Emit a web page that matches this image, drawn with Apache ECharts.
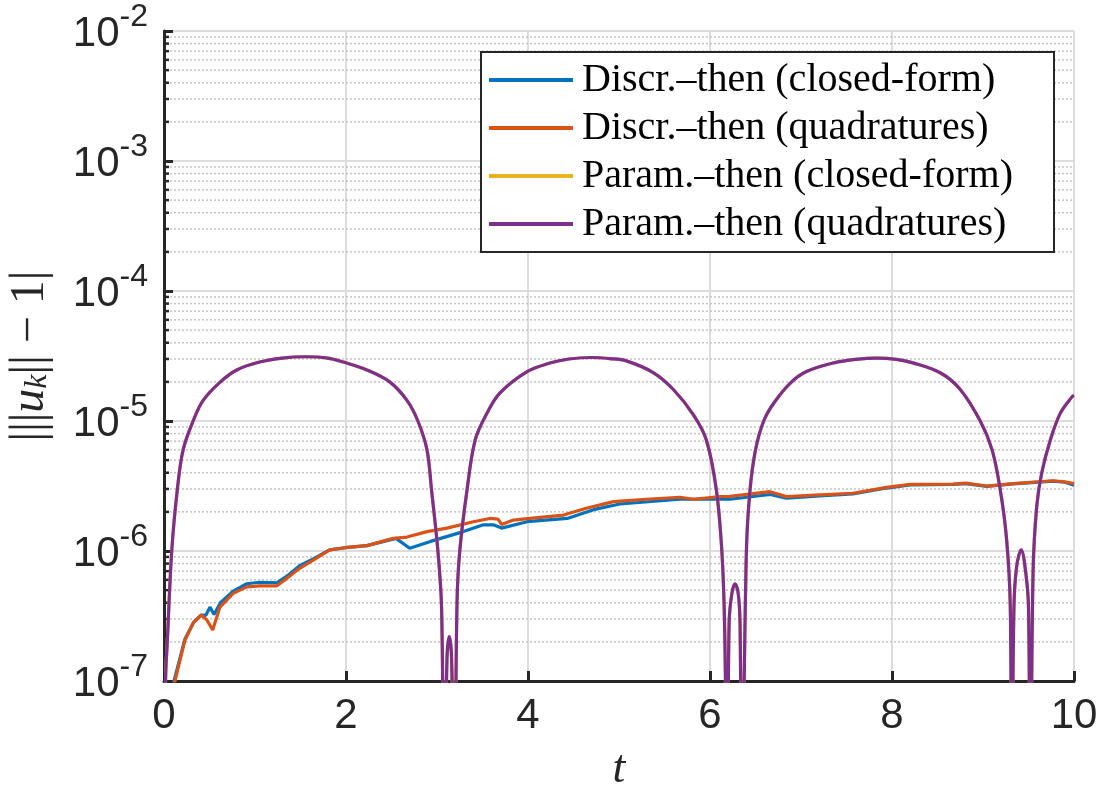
<!DOCTYPE html>
<html lang="en">
<head>
<meta charset="UTF-8">
<title>Norm deviation</title>
<script src="https://cdn.jsdelivr.net/npm/echarts@6/dist/echarts.min.js"></script>
<style>
  body { margin: 0; background: #fff; }
  #chart { width: 1100px; height: 800px; }
</style>
</head>
<body>
<div id="chart"></div>
<script>
// values: t and |‖u_k‖ - 1|
const seriesNames = [
  'Discr.–then (closed-form)',
  'Discr.–then (quadratures)',
  'Param.–then (closed-form)',
  'Param.–then (quadratures)'
];

// Discr.-then, closed-form (blue)
const tDiscrClosed = [0.06, 0.11, 0.23, 0.33, 0.41, 0.46, 0.505, 0.55, 0.62, 0.76, 0.91, 1.05, 1.24, 1.35, 1.49,
  1.64, 1.82, 1.99, 2.23, 2.55, 2.70, 2.92, 3.29, 3.51, 3.62, 3.71, 3.99, 4.43, 4.72, 5.01, 5.67, 6.22, 6.66,
  6.84, 7.21, 7.57, 7.94, 8.20, 8.67, 8.81, 9.04, 9.33, 9.77, 9.9, 10];
const vDiscrClosed = [3e-8, 1e-7, 2.1e-7, 2.85e-7, 3.22e-7, 3.2e-7, 3.7e-7, 3.25e-7, 4.0e-7, 4.9e-7, 5.6e-7, 5.75e-7,
  5.7e-7, 6.4e-7, 7.7e-7, 8.7e-7, 1.02e-6, 1.06e-6, 1.1e-6, 1.25e-6, 1.05e-6, 1.18e-6, 1.41e-6, 1.59e-6, 1.59e-6,
  1.5e-6, 1.68e-6, 1.78e-6, 2.08e-6, 2.3e-6, 2.5e-6, 2.5e-6, 2.72e-6, 2.55e-6, 2.65e-6, 2.75e-6, 3.05e-6, 3.22e-6,
  3.25e-6, 3.3e-6, 3.14e-6, 3.28e-6, 3.45e-6, 3.38e-6, 3.2e-6];

// Discr.-then, quadratures (orange)
const tDiscrQuad = [0.06, 0.12, 0.23, 0.32, 0.41, 0.47, 0.535, 0.615, 0.76, 0.91, 1.05, 1.24, 1.35, 1.49, 1.64,
  1.82, 1.99, 2.23, 2.52, 2.67, 2.89, 3.11, 3.40, 3.58, 3.67, 3.71, 3.84, 4.02, 4.39, 4.64, 4.94, 5.30, 5.67,
  5.82, 6.11, 6.22, 6.66, 6.84, 7.21, 7.57, 7.94, 8.20, 8.67, 8.81, 9.04, 9.33, 9.77, 9.9, 10];
const vDiscrQuad = [3e-8, 1e-7, 2.06e-7, 2.8e-7, 3.22e-7, 2.95e-7, 2.47e-7, 3.7e-7, 4.72e-7, 5.3e-7, 5.4e-7, 5.4e-7,
  6.16e-7, 7.36e-7, 8.5e-7, 1.02e-6, 1.06e-6, 1.1e-6, 1.25e-6, 1.28e-6, 1.41e-6, 1.5e-6, 1.68e-6, 1.78e-6, 1.76e-6,
  1.6e-6, 1.73e-6, 1.78e-6, 1.89e-6, 2.13e-6, 2.4e-6, 2.5e-6, 2.59e-6, 2.5e-6, 2.62e-6, 2.63e-6, 2.86e-6, 2.62e-6,
  2.7e-6, 2.78e-6, 3.09e-6, 3.25e-6, 3.27e-6, 3.33e-6, 3.16e-6, 3.3e-6, 3.47e-6, 3.4e-6, 3.3e-6];

// Param.-then (closed-form and quadratures give the same curve)
const tParam = [0, 0.017, 0.037, 0.085, 0.146, 0.21, 0.32, 0.43, 0.62, 0.8, 1.05, 1.3, 1.55, 1.8, 1.97, 2.23, 2.48,
  2.67, 2.79, 2.89, 2.94, 3.01, 3.05, 3.08, 3.11, 3.135, 3.16, 3.19, 3.22, 3.25, 3.33, 3.42, 3.55, 3.69, 3.99,
  4.24, 4.45, 4.7, 4.9, 5.08, 5.38, 5.6, 5.82, 5.96, 6.07, 6.13, 6.16, 6.19, 6.21, 6.24, 6.275, 6.31, 6.33, 6.35,
  6.40, 6.44, 6.5, 6.59, 6.70, 6.88, 7.06, 7.36, 7.6, 7.83, 8.05, 8.23, 8.53, 8.75, 8.97, 9.10, 9.19, 9.26, 9.30,
  9.315, 9.34, 9.37, 9.42, 9.47, 9.50, 9.52, 9.55, 9.59, 9.645, 9.74, 9.85, 9.98, 10];
const vParam = [1e-9, 1e-7, 2.06e-7, 1e-6, 2.95e-6, 6e-6, 1e-5, 1.44e-5, 2e-5, 2.47e-5, 2.84e-5, 3.05e-5, 3.12e-5,
  3.05e-5, 2.84e-5, 2.47e-5, 2e-5, 1.44e-5, 1e-5, 6e-6, 2.95e-6, 1e-6, 3.7e-7, 1e-8, 1.5e-7, 2.2e-7, 1.5e-7, 1e-8,
  4e-7, 1e-6, 2.95e-6, 7.15e-6, 1.15e-5, 1.64e-5, 2.4e-5, 2.79e-5, 3.0e-5, 3.08e-5, 3.02e-5, 2.9e-5, 2.35e-5,
  1.74e-5, 1.11e-5, 7.15e-6, 2.95e-6, 1e-6, 2.8e-7, 1e-8, 2.8e-7, 4.7e-7, 5.6e-7, 4.7e-7, 2.8e-7, 1e-8, 1e-6,
  2.95e-6, 6e-6, 1e-5, 1.37e-5, 1.95e-5, 2.4e-5, 2.8e-5, 2.98e-5, 3.05e-5, 2.98e-5, 2.8e-5, 2.35e-5, 1.75e-5, 1e-5,
  6e-6, 2.95e-6, 1.22e-6, 3.7e-7, 1e-8, 3.7e-7, 7.6e-7, 1.02e-6, 6.8e-7, 3.7e-7, 1e-8, 6.8e-7, 2.19e-6, 3.98e-6,
  7.15e-6, 1.15e-5, 1.54e-5, 1.57e-5];

// log axis decades and the 2..9 minor positions inside them
const decades = [1e-7, 1e-6, 1e-5, 1e-4, 1e-3];
const minorSteps = [2, 3, 4, 5, 6, 7, 8, 9];

const colors = ['#0072BD', '#D95319', '#EDB120', '#7E2F8E'];
const axisColor = '#262626';

const zip = (ts, vs) => ts.map((t, i) => [t, vs[i]]);
const minorValues = [];
decades.forEach(d => minorSteps.forEach(m => minorValues.push([0, d * m])));

const chart = echarts.init(document.getElementById('chart'));

function lineSeries(name, ts, vs, color, smooth) {
  return {
    name: name,
    type: 'line',
    data: zip(ts, vs),
    showSymbol: false,
    symbol: 'none',
    smooth: smooth,
    clip: true,
    z: 3,
    lineStyle: { color: color, width: 3.2 },
    itemStyle: { color: color },
    emphasis: { disabled: true }
  };
}

chart.setOption({
  animation: false,
  color: colors,
  grid: { left: 164, right: 26, top: 31, bottom: 119, outerBoundsMode: 'none' },
  legend: {
    data: seriesNames,
    orient: 'vertical',
    left: 481,
    top: 52,
    icon: 'rect',
    itemWidth: 84,
    itemHeight: 4,
    itemGap: 8,
    padding: [8, 6, 8, 8],
    backgroundColor: '#fff',
    borderColor: axisColor,
    borderWidth: 2,
    selectedMode: false,
    textStyle: {
      fontFamily: 'Liberation Serif',
      fontSize: 40,
      lineHeight: 40,
      width: 466,
      padding: [0, 0, 0, 4],
      color: '#000'
    }
  },
  xAxis: {
    type: 'value',
    min: 0,
    max: 10,
    interval: 2,
    axisLine: { onZero: false, lineStyle: { color: axisColor, width: 3 } },
    axisTick: { inside: true, length: 10, lineStyle: { color: axisColor, width: 3 } },
    axisLabel: {
      margin: 14,
      color: axisColor,
      fontFamily: 'Liberation Sans',
      fontSize: 42,
      formatter: v => String(v)
    },
    splitLine: { show: true, lineStyle: { color: '#dcdcdc', width: 2 } },
    name: 't',
    nameLocation: 'middle',
    nameGap: 66,
    nameTextStyle: { fontFamily: 'Liberation Serif', fontStyle: 'italic', fontSize: 46, color: axisColor }
  },
  yAxis: {
    type: 'log',
    logBase: 10,
    min: 1e-7,
    max: 1e-2,
    axisLine: { show: true, lineStyle: { color: axisColor, width: 3 } },
    axisTick: { show: true, inside: true, length: 9, lineStyle: { color: axisColor, width: 3 } },
    axisLabel: {
      margin: 16,
      padding: [0, 0, 5, 0],
      formatter: v => '{b|10}{s|' + Math.round(Math.log10(v)) + '}',
      rich: {
        b: { fontFamily: 'Liberation Sans', fontSize: 42, lineHeight: 54, verticalAlign: 'bottom', color: axisColor },
        s: { fontFamily: 'Liberation Sans', fontSize: 32, lineHeight: 32, verticalAlign: 'top', color: axisColor }
      }
    },
    splitLine: { show: true, lineStyle: { color: '#dcdcdc', width: 2 } },
    name: '{n||||}{i|u}{k|k}{n||| − 1|}',
    nameLocation: 'middle',
    nameGap: 110,
    nameTextStyle: {
      rich: {
        n: { fontFamily: 'Liberation Serif', fontSize: 48, lineHeight: 52, verticalAlign: 'bottom', color: axisColor },
        i: { fontFamily: 'Liberation Serif', fontStyle: 'italic', fontSize: 48, lineHeight: 52, verticalAlign: 'bottom', color: axisColor },
        k: { fontFamily: 'Liberation Serif', fontStyle: 'italic', fontSize: 32, lineHeight: 34, verticalAlign: 'bottom', color: axisColor }
      }
    }
  },
  series: [
    {
      // dotted minor grid lines and minor ticks of the log axis
      type: 'custom',
      silent: true,
      z: 1,
      data: minorValues,
      encode: { x: 0, y: 1 },
      renderItem: function (params, api) {
        const p = api.coord([0, api.value(1)]);
        const cs = params.coordSys;
        return {
          type: 'group',
          children: [
            {
              type: 'line',
              shape: { x1: cs.x + 6, y1: p[1], x2: cs.x + cs.width, y2: p[1] },
              style: { stroke: '#c4c4c4', lineWidth: 1.5, lineDash: [2, 2] }
            },
            {
              type: 'line',
              shape: { x1: cs.x, y1: p[1], x2: cs.x + 5, y2: p[1] },
              style: { stroke: axisColor, lineWidth: 2.5 }
            }
          ]
        };
      }
    },
    lineSeries(seriesNames[0], tDiscrClosed, vDiscrClosed, colors[0], false),
    lineSeries(seriesNames[1], tDiscrQuad, vDiscrQuad, colors[1], false),
    lineSeries(seriesNames[2], tParam, vParam, colors[2], 0.35),
    lineSeries(seriesNames[3], tParam, vParam, colors[3], 0.35)
  ]
});

window.addEventListener('resize', function () {
  chart.resize();
});
</script>
</body>
</html>
